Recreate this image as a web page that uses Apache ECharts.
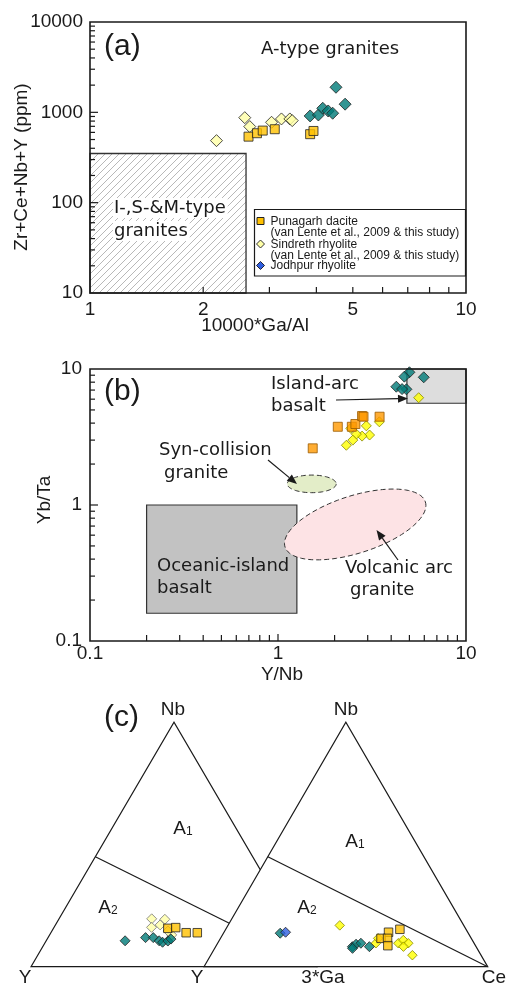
<!DOCTYPE html>
<html><head><meta charset="utf-8">
<script src="https://cdn.jsdelivr.net/npm/echarts@6.0.0/dist/echarts.min.js"></script>
<style>html,body{margin:0;padding:0;background:#fff;}#chart{width:506px;height:986px;}</style>
</head><body><div id="chart"></div>
<script>
// ---------- Panel (a): 10000*Ga/Al vs Zr+Ce+Nb+Y (ppm) ----------
const aPunagarhGaAl = [2.64, 2.78, 2.88, 3.10, 3.85, 3.93];
const aPunagarhSum  = [538, 587, 628, 650, 573, 622];
const aSindrethGaAl = [2.17, 2.58, 2.66, 3.04, 3.23, 3.40, 3.45];
const aSindrethSum  = [486, 873, 695, 776, 845, 845, 810];
const aJodhpurGaAl  = [4.51, 4.77, 3.85, 4.05, 4.16, 4.30, 4.42];
const aJodhpurSum   = [1895, 1231, 912, 935, 1109, 1035, 977];
const aXRange = [1, 10];
const aYRange = [10, 10000];
const aXTickLabels = [1, 2, 5, 10];
const aXMinorTicks = [2, 3, 4, 5, 6, 7, 8, 9];
const aYMajorTicks = [100, 1000];
const aYMinorTicks = [20, 30, 40, 50, 60, 70, 80, 90, 200, 300, 400, 500, 600, 700, 800, 900, 2000, 3000, 4000, 5000, 6000, 7000, 8000, 9000];
const aISMField = [[1, 10], [2.6, 350]]; // I-, S- & M-type granite field corners

// ---------- Panel (b): Y/Nb vs Yb/Ta ----------
const bPunagarhYNb  = [1.53, 2.08, 2.47, 2.58, 2.80, 2.85, 3.47];
const bPunagarhYbTa = [2.61, 3.76, 3.76, 3.94, 4.51, 4.46, 4.46];
const bSindrethYNb  = [5.60, 3.46, 2.95, 3.07, 2.80, 2.61, 2.50, 2.31, 2.44];
const bSindrethYbTa = [6.15, 4.09, 3.82, 3.27, 3.21, 3.32, 3.00, 2.75, 3.66];
const bJodhpurYNb   = [5.00, 4.70, 5.96, 4.26, 4.82, 4.57];
const bJodhpurYbTa  = [9.46, 8.78, 8.69, 7.41, 7.09, 7.12];
const bXRange = [0.1, 10];
const bYRange = [0.1, 10];
const bMinorTicks = [0.2, 0.3, 0.4, 0.5, 0.6, 0.7, 0.8, 0.9, 2, 3, 4, 5, 6, 7, 8, 9];
const bMajorTicks = [1];
const bOIBField = [[0.2, 0.16], [1.26, 1.0]];
const bIABField = [[4.85, 5.6], [10, 10]];
const bSynCollField = {left: [1.12, 1.43], right: [2.04, 1.43], top: [1.51, 1.66]};
const bVAGField = {ends: [[1.09, 0.491], [6.08, 1.054]], widthRatio: 0.389};

// ---------- Panel (c): ternary diagrams (Nb, Y, 3*Ga) and (Nb, Y, Ce), in % ----------
const cGaSindreth = [[19.6,48.0,32.4],[19.4,43.5,37.1],[16.1,49.8,34.1],[17.1,46.3,36.6],[13.0,44.3,42.7],[14.6,44.8,40.6]];
const cGaPunagarh = [[15.7,44.3,40.0],[16.0,41.4,42.6],[13.9,38.8,47.3],[13.9,34.9,51.2]];
const cGaJodhpur  = [[10.6,61.8,27.6],[11.9,54.0,34.1],[11.9,51.3,36.8],[10.6,49.9,39.5],[10.0,49.0,41.0],[10.5,46.9,42.6],[11.3,45.4,43.3]];
const cCeSindreth = [[16.9,43.7,39.4],[9.6,34.6,55.8],[11.6,32.8,55.6],[9.6,26.7,63.7],[10.9,24.3,64.8],[9.6,23.2,67.2],[8.2,25.6,66.2],[4.7,24.2,71.1]];
const cCePunagarh = [[14.1,27.9,58.0],[15.3,23.3,61.4],[11.6,31.8,56.6],[11.6,29.5,58.9],[8.6,30.9,60.5]];
const cCeJodhpur  = [[13.7,66.3,20.0],[8.2,43.6,48.2],[9.2,41.8,49.0],[9.6,39.9,50.5],[8.2,37.6,54.2],[7.5,43.9,48.6]];
const cCeJodhpurBlue = [[14.1,64.2,21.7]];
const cA1A2Boundary = 45; // Nb % on the Nb-Y side where the A1/A2 line starts

const F = '"Liberation Sans", Arial, sans-serif';
const FD = '"DejaVu Sans", sans-serif';
const INK = '#1a1a1a';

const zip = (xs, ys) => xs.map((x, i) => [x, ys[i]]);
function ternXY(t) { const s = t[0] + t[1] + t[2]; const n = t[0] / s, r = t[2] / s; return [r + n / 2, n]; }

const hatch = document.createElement('canvas'); hatch.width = 7; hatch.height = 7;
(function () { const g = hatch.getContext('2d'); g.strokeStyle = '#9a9a9a'; g.lineWidth = 0.7;
  g.beginPath(); g.moveTo(-1, 8); g.lineTo(8, -1); g.moveTo(-1, 1); g.lineTo(1, -1); g.moveTo(6, 8); g.lineTo(8, 6); g.stroke(); })();

function ln(x1, y1, x2, y2, w) { return {type: 'line', shape: {x1, y1, x2, y2}, style: {stroke: INK, lineWidth: w || 1.2}}; }

function frame(api, xr, yr, xMinor, xMajor, yMinor, yMajor, xLabels) {
  const ch = [];
  const bl = api.coord([xr[0], yr[0]]), tr = api.coord([xr[1], yr[1]]);
  xMinor.forEach(v => { const c = api.coord([v, yr[0]]); ch.push(ln(c[0], c[1], c[0], c[1] - 6)); });
  xMajor.forEach(v => { const c = api.coord([v, yr[0]]); ch.push(ln(c[0], c[1], c[0], c[1] - 7)); });
  yMinor.forEach(v => { const c = api.coord([xr[0], v]); ch.push(ln(c[0], c[1], c[0] + 5, c[1])); });
  yMajor.forEach(v => { const c = api.coord([xr[0], v]); ch.push(ln(c[0], c[1], c[0] + 8, c[1])); });
  ch.push({type: 'rect', shape: {x: bl[0], y: tr[1], width: tr[0] - bl[0], height: bl[1] - tr[1]}, style: {fill: 'none', stroke: INK, lineWidth: 1.6}});
  (xLabels || []).forEach(v => { const c = api.coord([v, yr[0]]);
    ch.push({type: 'text', x: c[0], y: c[1] + 7, style: {text: String(v), fontSize: 19, fontFamily: F, fill: INK, align: 'center', verticalAlign: 'top'}}); });
  return {type: 'group', children: ch};
}

function ellipsePoly(cx, cy, a, b, th) {
  const pts = [];
  for (let i = 0; i < 96; i++) { const t = i / 96 * Math.PI * 2;
    pts.push([cx + a * Math.cos(t) * Math.cos(th) - b * Math.sin(t) * Math.sin(th), cy + a * Math.cos(t) * Math.sin(th) + b * Math.sin(t) * Math.cos(th)]); }
  return pts;
}

const sq = (c, b) => ({color: c, borderColor: b || '#222', borderWidth: 1});

const series = [
  // ---- (a)
  {type: 'custom', xAxisIndex: 0, yAxisIndex: 0, data: [[1, 10]], silent: true, clip: false,
    renderItem: (p, api) => { const p1 = api.coord(aISMField[0]), p2 = api.coord(aISMField[1]);
      return {type: 'rect', shape: {x: p1[0], y: p2[1], width: p2[0] - p1[0], height: p1[1] - p2[1]},
        style: {fill: {image: hatch, repeat: 'repeat'}, stroke: '#333', lineWidth: 1.3}}; }},
  {type: 'scatter', xAxisIndex: 0, yAxisIndex: 0, symbol: 'diamond', symbolSize: 12, data: zip(aSindrethGaAl, aSindrethSum), itemStyle: sq('#ffffa6')},
  {type: 'scatter', xAxisIndex: 0, yAxisIndex: 0, symbol: 'rect', symbolSize: 9, data: zip(aPunagarhGaAl, aPunagarhSum), itemStyle: sq('#ffc000')},
  {type: 'scatter', xAxisIndex: 0, yAxisIndex: 0, symbol: 'diamond', symbolSize: 12, data: zip(aJodhpurGaAl, aJodhpurSum), itemStyle: sq('#007a78')},
  {type: 'custom', xAxisIndex: 0, yAxisIndex: 0, data: [[1, 10]], silent: true, clip: false, z: 5,
    renderItem: (p, api) => frame(api, aXRange, aYRange, aXMinorTicks, [], aYMinorTicks, aYMajorTicks, aXTickLabels)},
  // ---- (b)
  {type: 'custom', xAxisIndex: 1, yAxisIndex: 1, data: [[1, 1]], silent: true, clip: false,
    renderItem: (p, api) => {
      const ch = [];
      const r = (f, fill) => { const p1 = api.coord(f[0]), p2 = api.coord(f[1]);
        return {type: 'rect', shape: {x: p1[0], y: p2[1], width: p2[0] - p1[0], height: p1[1] - p2[1]}, style: {fill, stroke: '#333', lineWidth: 1.2}}; };
      ch.push(r(bOIBField, '#c2c2c2'));
      ch.push(r(bIABField, '#dddddd'));
      const l = api.coord(bSynCollField.left), rr = api.coord(bSynCollField.right), t = api.coord(bSynCollField.top);
      const cx = (l[0] + rr[0]) / 2, cy = (l[1] + rr[1]) / 2;
      ch.push({type: 'polygon', shape: {points: ellipsePoly(cx, cy, (rr[0] - l[0]) / 2, cy - t[1], 0)}, style: {fill: '#e3edc8', stroke: '#333', lineWidth: 1, lineDash: [5, 3]}});
      const e1 = api.coord(bVAGField.ends[0]), e2 = api.coord(bVAGField.ends[1]);
      const a = Math.hypot(e2[0] - e1[0], e2[1] - e1[1]) / 2, th = Math.atan2(e2[1] - e1[1], e2[0] - e1[0]);
      ch.push({type: 'polygon', shape: {points: ellipsePoly((e1[0] + e2[0]) / 2, (e1[1] + e2[1]) / 2, a, a * bVAGField.widthRatio, th)}, style: {fill: '#fde3e5', stroke: '#333', lineWidth: 1, lineDash: [5, 3]}});
      return {type: 'group', children: ch};
    }},
  {type: 'scatter', xAxisIndex: 1, yAxisIndex: 1, symbol: 'diamond', symbolSize: 10, data: zip(bSindrethYNb, bSindrethYbTa), itemStyle: sq('#ffff00', '#8a8a00')},
  {type: 'scatter', xAxisIndex: 1, yAxisIndex: 1, symbol: 'rect', symbolSize: 9, data: zip(bPunagarhYNb, bPunagarhYbTa), itemStyle: sq('#ff9900', '#9a5a00')},
  {type: 'scatter', xAxisIndex: 1, yAxisIndex: 1, symbol: 'diamond', symbolSize: 11, data: zip(bJodhpurYNb, bJodhpurYbTa), itemStyle: sq('#007a78')},
  {type: 'custom', xAxisIndex: 1, yAxisIndex: 1, data: [[1, 1]], silent: true, clip: false, z: 5,
    renderItem: (p, api) => frame(api, bXRange, bYRange, bMinorTicks, bMajorTicks, bMinorTicks, bMajorTicks, [])},
  // ---- (c) left triangle Nb-Y-3Ga
  {type: 'custom', xAxisIndex: 2, yAxisIndex: 2, data: [[0, 0]], silent: true, clip: false,
    renderItem: (p, api) => {
      const v = [[0, 0], [0.5, 1], [1, 0]].map(q => api.coord(q));
      const d = api.coord(ternXY([cA1A2Boundary, 100 - cA1A2Boundary, 0]));
      return {type: 'group', children: [
        {type: 'polygon', shape: {points: v}, style: {fill: 'none', stroke: INK, lineWidth: 1.2}},
        ln(d[0], d[1], v[2][0], v[2][1])]};
    }},
  // ---- (c) right triangle Nb-Y-Ce (white fill hides left triangle behind it)
  {type: 'custom', xAxisIndex: 3, yAxisIndex: 3, data: [[0, 0]], silent: true, clip: false,
    renderItem: (p, api) => {
      const v = [[0, 0], [0.5, 1], [1, 0]].map(q => api.coord(q));
      const d = api.coord(ternXY([cA1A2Boundary, 100 - cA1A2Boundary, 0]));
      return {type: 'group', children: [
        {type: 'polygon', shape: {points: v}, style: {fill: '#fff', stroke: INK, lineWidth: 1.2}},
        ln(d[0], d[1], v[2][0], v[2][1])]};
    }},
  {type: 'scatter', xAxisIndex: 2, yAxisIndex: 2, symbol: 'diamond', symbolSize: 10, data: cGaSindreth.map(ternXY), itemStyle: sq('#ffffa6', '#777')},
  {type: 'scatter', xAxisIndex: 2, yAxisIndex: 2, symbol: 'rect', symbolSize: 8.5, data: cGaPunagarh.map(ternXY), itemStyle: sq('#ffc000')},
  {type: 'scatter', xAxisIndex: 2, yAxisIndex: 2, symbol: 'diamond', symbolSize: 10, data: cGaJodhpur.map(ternXY), itemStyle: sq('#007a78')},
  {type: 'scatter', xAxisIndex: 3, yAxisIndex: 3, symbol: 'diamond', symbolSize: 9.5, data: cCeSindreth.map(ternXY), itemStyle: sq('#ffff00', '#8a8a00')},
  {type: 'scatter', xAxisIndex: 3, yAxisIndex: 3, symbol: 'rect', symbolSize: 8.5, data: cCePunagarh.map(ternXY), itemStyle: sq('#ffc000')},
  {type: 'scatter', xAxisIndex: 3, yAxisIndex: 3, symbol: 'diamond', symbolSize: 10, data: cCeJodhpur.map(ternXY), itemStyle: sq('#007a78')},
  {type: 'scatter', xAxisIndex: 3, yAxisIndex: 3, symbol: 'diamond', symbolSize: 10, data: cCeJodhpurBlue.map(ternXY), itemStyle: sq('#2f5fe0')}
];

function T(text, x, y, o) {
  o = o || {};
  return {type: 'text', x, y, rotation: o.rot || 0, z: 100,
    style: {text, fontSize: o.size || 18, fontFamily: o.font || FD, fill: INK, align: o.align || 'left', verticalAlign: 'middle',
      backgroundColor: o.bg, padding: o.pad}};
}
function arrow(x1, y1, x2, y2) {
  const th = Math.atan2(y2 - y1, x2 - x1), L = 10, W = 4;
  const bx = x2 - L * Math.cos(th), by = y2 - L * Math.sin(th);
  return [
    {type: 'line', z: 100, shape: {x1, y1, x2: bx, y2: by}, style: {stroke: INK, lineWidth: 1.2}},
    {type: 'polygon', z: 100, shape: {points: [[x2, y2], [bx - W * Math.sin(th), by + W * Math.cos(th)], [bx + W * Math.sin(th), by - W * Math.cos(th)]]}, style: {fill: INK}}
  ];
}
function sub(main, s, x, y) {
  return {type: 'text', x, y, z: 100, style: {text: '{a|' + main + '}{s|' + s + '}', align: 'center', verticalAlign: 'middle',
    rich: {a: {fontSize: 19, fontFamily: F, fill: INK}, s: {fontSize: 12, fontFamily: F, fill: INK, verticalAlign: 'bottom', padding: [0, 0, 1, 0]}}}};
}

const graphic = [
  // panel (a)
  T('(a)', 104, 47, {size: 30, font: F}),
  T('A-type granites', 261, 49),
  T('I-,S-&M-type', 113, 208, {bg: '#fff', pad: [1, 2, 1, 1]}),
  T('granites', 113, 231, {bg: '#fff', pad: [1, 2, 1, 1]}),
  T('Zr+Ce+Nb+Y (ppm)', 22, 167, {size: 19, font: F, align: 'center', rot: Math.PI / 2}),
  T('10000*Ga/Al', 255, 326, {size: 19, font: F, align: 'center'}),
  {type: 'rect', z: 90, shape: {x: 254.5, y: 209.5, width: 211, height: 66.5}, style: {fill: '#fff', stroke: INK, lineWidth: 1.2}},
  {type: 'rect', z: 100, shape: {x: 257, y: 217.5, width: 7, height: 7}, style: {fill: '#ffc000', stroke: '#222', lineWidth: 1}},
  {type: 'polygon', z: 100, shape: {points: [[260.5, 240], [264.5, 244], [260.5, 248], [256.5, 244]]}, style: {fill: '#ffffa6', stroke: '#333', lineWidth: 1}},
  {type: 'polygon', z: 100, shape: {points: [[260.5, 261.5], [264.5, 265.5], [260.5, 269.5], [256.5, 265.5]]}, style: {fill: '#2f5fe0', stroke: '#223', lineWidth: 1}},
  T('Punagarh dacite', 270.5, 221.5, {size: 12, font: F}),
  T('(van Lente et al., 2009 & this study)', 270.5, 233, {size: 12, font: F}),
  T('Sindreth rhyolite', 270.5, 244.5, {size: 12, font: F}),
  T('(van Lente et al., 2009 & this study)', 270.5, 255.5, {size: 12, font: F}),
  T('Jodhpur rhyolite', 270.5, 266, {size: 12, font: F}),
  // panel (b)
  T('(b)', 104, 392, {size: 30, font: F}),
  T('Island-arc', 271, 384),
  T('basalt', 271, 406),
  T('Syn-collision', 159, 450),
  T('granite', 164, 473),
  T('Oceanic-island', 157, 566),
  T('basalt', 157, 588),
  T('Volcanic arc', 345, 568),
  T('granite', 350, 590),
  T('Yb/Ta', 45, 500, {size: 19, font: F, align: 'center', rot: Math.PI / 2}),
  T('Y/Nb', 282, 675, {size: 19, font: F, align: 'center'}),
  ...arrow(336, 400, 408, 398.5),
  ...arrow(268, 460, 297, 484),
  ...arrow(398, 560, 376.5, 530),
  // panel (c)
  T('(c)', 104, 718, {size: 30, font: F}),
  T('Nb', 173, 710, {size: 19, font: F, align: 'center'}),
  T('Nb', 346, 710, {size: 19, font: F, align: 'center'}),
  T('Y', 25, 978, {size: 19, font: F, align: 'center'}),
  T('Y', 197, 978, {size: 19, font: F, align: 'center'}),
  T('3*Ga', 323, 978, {size: 19, font: F, align: 'center'}),
  T('Ce', 494, 978, {size: 19, font: F, align: 'center'}),
  sub('A', '1', 183, 829),
  sub('A', '2', 108, 908),
  sub('A', '1', 355, 842),
  sub('A', '2', 307, 908)
];

const logAxisLabel = m => ({show: true, margin: m, fontSize: 19, fontFamily: F, color: INK, formatter: v => String(+(+v).toPrecision(3))});
const hidden = {axisLine: {show: false}, axisTick: {show: false}, splitLine: {show: false}};

const option = {
  animation: false,
  backgroundColor: '#fff',
  grid: [
    {left: 90, top: 22, width: 376, height: 271},
    {left: 90, top: 369, width: 376, height: 272},
    {left: 31, top: 722.3, width: 286, height: 244.4},
    {left: 204, top: 722.3, width: 283.7, height: 244.4}
  ],
  xAxis: [
    Object.assign({gridIndex: 0, type: 'log', logBase: 10, min: aXRange[0], max: aXRange[1], axisLabel: {show: false}}, hidden),
    Object.assign({gridIndex: 1, type: 'log', logBase: 10, min: bXRange[0], max: bXRange[1], axisLabel: logAxisLabel(3)}, hidden),
    {gridIndex: 2, type: 'value', min: 0, max: 1, show: false},
    {gridIndex: 3, type: 'value', min: 0, max: 1, show: false}
  ],
  yAxis: [
    Object.assign({gridIndex: 0, type: 'log', logBase: 10, min: aYRange[0], max: aYRange[1], axisLabel: logAxisLabel(7)}, hidden),
    Object.assign({gridIndex: 1, type: 'log', logBase: 10, min: bYRange[0], max: bYRange[1], axisLabel: logAxisLabel(8)}, hidden),
    {gridIndex: 2, type: 'value', min: 0, max: 1, show: false},
    {gridIndex: 3, type: 'value', min: 0, max: 1, show: false}
  ],
  graphic,
  series
};
const chart = echarts.init(document.getElementById('chart'));
chart.setOption(option);
</script></body></html>
